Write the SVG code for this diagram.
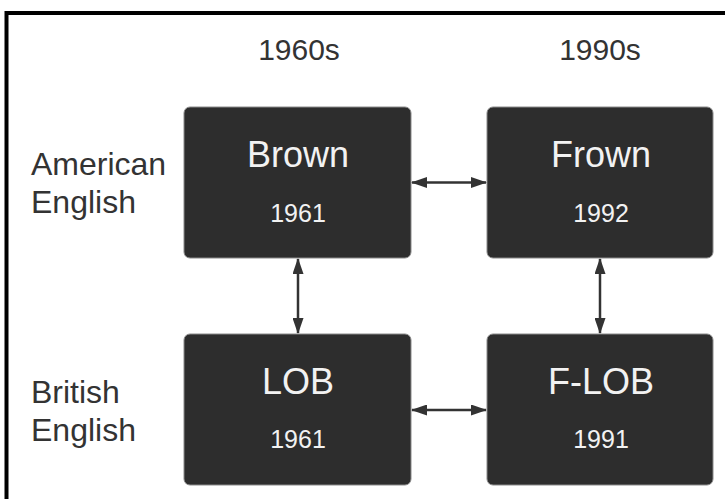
<svg xmlns="http://www.w3.org/2000/svg" width="725" height="499" viewBox="0 0 725 499">
<style>
.lbl{font-family:"Liberation Sans",Arial,sans-serif;fill:#333;}
.box{fill:#2d2d2d;stroke:#8a8a8a;stroke-width:1;}
.name{font-family:"Liberation Sans",Arial,sans-serif;fill:#f2f2f2;font-size:36px;text-anchor:middle;}
.year{font-family:"Liberation Sans",Arial,sans-serif;fill:#f2f2f2;font-size:25px;text-anchor:middle;}
.conn{stroke:#333;stroke-width:2.5;fill:none;marker-start:url(#ah);marker-end:url(#ah);}
</style>
<defs>
<marker id="ah" viewBox="0 0 16 11" refX="15" refY="5.5" markerWidth="16" markerHeight="11" markerUnits="userSpaceOnUse" orient="auto-start-reverse">
<path d="M0,0 L16,5.5 L0,11 Z" fill="#333"/>
</marker>
</defs>
<rect x="0" y="0" width="725" height="499" fill="#fff"/>
<rect x="6.5" y="13" width="740" height="510" fill="none" stroke="#000" stroke-width="4"/>
<g id="headers">
<text class="lbl" x="299" y="60" font-size="30" text-anchor="middle">1960s</text>
<text class="lbl" x="600" y="60" font-size="30" text-anchor="middle">1990s</text>
</g>
<g id="row-labels">
<text class="lbl" x="31" y="175" font-size="32">American</text>
<text class="lbl" x="31" y="213" font-size="32">English</text>
<text class="lbl" x="31" y="403" font-size="32">British</text>
<text class="lbl" x="31" y="441" font-size="32">English</text>
</g>
<g id="connectors">
<line class="conn" x1="412" y1="182.5" x2="486" y2="182.5"/>
<line class="conn" x1="412" y1="410" x2="486" y2="410"/>
<line class="conn" x1="298" y1="259" x2="298" y2="333"/>
<line class="conn" x1="600" y1="259" x2="600" y2="333"/>
</g>
<g id="brown">
<rect class="box" x="184" y="107" width="227" height="151" rx="6"/>
<text class="name" x="298" y="167">Brown</text>
<text class="year" x="298" y="222">1961</text>
</g>
<g id="frown">
<rect class="box" x="487" y="107" width="226" height="151" rx="6"/>
<text class="name" x="601" y="167">Frown</text>
<text class="year" x="601" y="222">1992</text>
</g>
<g id="lob">
<rect class="box" x="184" y="334" width="227" height="151" rx="6"/>
<text class="name" x="298" y="394">LOB</text>
<text class="year" x="298" y="448">1961</text>
</g>
<g id="flob">
<rect class="box" x="487" y="334" width="226" height="151" rx="6"/>
<text class="name" x="601" y="394">F-LOB</text>
<text class="year" x="601" y="448">1991</text>
</g>
</svg>
